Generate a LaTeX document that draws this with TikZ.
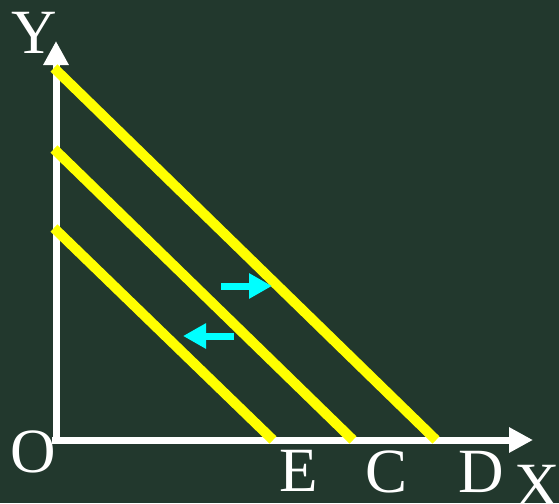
\documentclass[tikz,border=0pt]{standalone}
\usepackage{fontspec}
\setmainfont{Liberation Serif}
\usetikzlibrary{arrows.meta}
\definecolor{board}{RGB}{34,56,45}
\definecolor{budgetyellow}{RGB}{255,255,0}
\definecolor{shiftcyan}{RGB}{0,255,255}

\begin{document}
\begin{tikzpicture}[
    x=1pt, y=-1pt,
    axis/.style={white, line width=7pt, -{Triangle[length=24pt, width=24pt]}},
    budgetline/.style={budgetyellow, line width=10pt, line cap=butt},
    move/.style={shiftcyan, line width=7pt, -{Triangle[length=23pt, width=24pt]}},
    lbl/.style={white, inner sep=0pt, font=\fontsize{63}{63}\selectfont}
  ]
    \fill[board] (0,0) rectangle (559,503);
    \useasboundingbox (0,0) rectangle (559,503);

    % axes
    \coordinate (origin) at (56,443);
    \coordinate (ytip) at (56,41);
    \coordinate (xstart) at (52,440);
    \coordinate (xtip) at (533,440);
    \draw[axis] (origin) -- (ytip);
    \draw[axis] (xstart) -- (xtip);

    % budget lines
    \coordinate (top1) at (54,68);
    \coordinate (top2) at (54,149);
    \coordinate (top3) at (54,228);
    \coordinate (D) at (436,440);
    \coordinate (C) at (353,440);
    \coordinate (E) at (273,440);
    \draw[budgetline] (top1) -- (D);
    \draw[budgetline] (top2) -- (C);
    \draw[budgetline] (top3) -- (E);

    % shifts
    \coordinate (r1) at (221,286);
    \coordinate (r2) at (272,286);
    \coordinate (l1) at (234,336);
    \coordinate (l2) at (183,336);
    \draw[move] (r1) -- (r2);
    \draw[move] (l1) -- (l2);

    \node[lbl] (ylab) at (34,33) {Y};
    \node[lbl] (olab) at (33,452) {O};
    \node[lbl] (elab) at (299,471) {E};
    \node[lbl] (clab) at (387,472) {C};
    \node[lbl] (dlab) at (481,472) {D};
    \node[lbl] (xlab) at (537,486) {X};
  \end{tikzpicture}
\end{document}
